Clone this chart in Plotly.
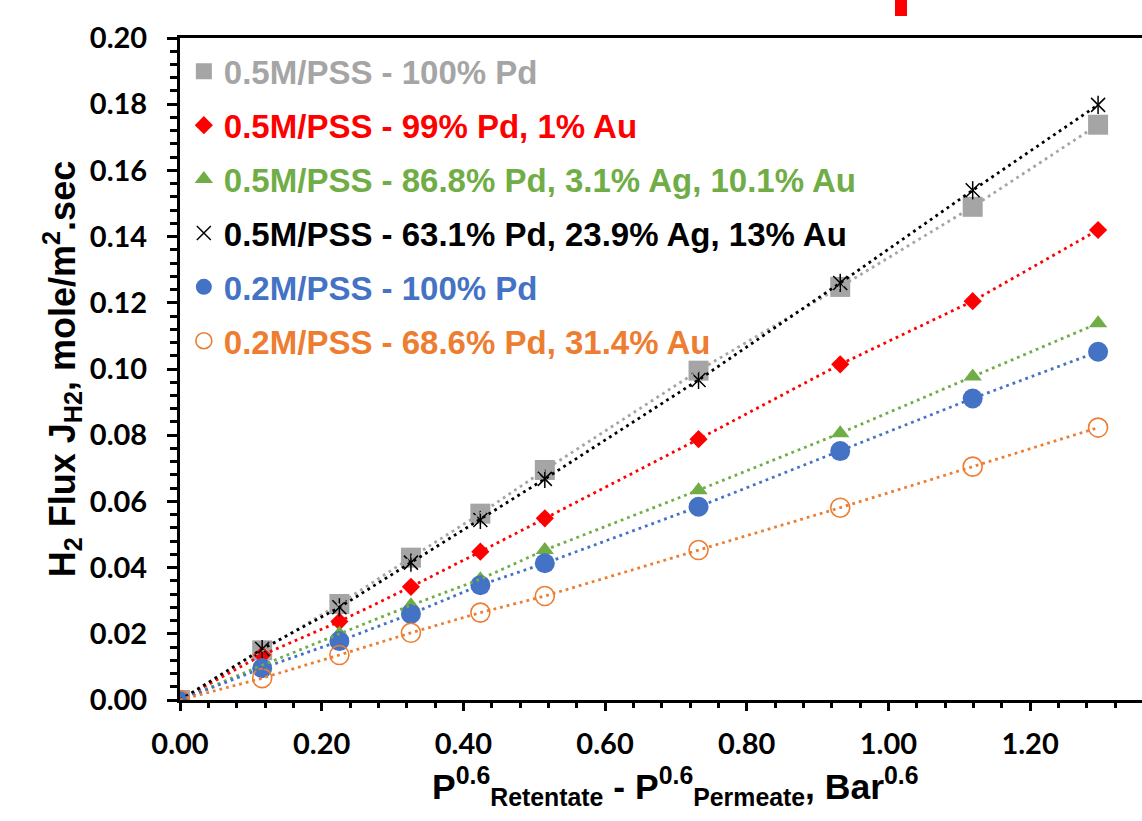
import plotly.graph_objects as go

# ---- data ----
x_vals = [0, 0.116, 0.225, 0.326, 0.424, 0.515, 0.732, 0.932, 1.119, 1.296]

pd100_05 = [0, 0.0150, 0.0290, 0.0430, 0.0563, 0.0695, 0.0995, 0.1248, 0.1490, 0.1738]
pdau_99 = [0, 0.0136, 0.0237, 0.0342, 0.0448, 0.0549, 0.0788, 0.1014, 0.1205, 0.1420]
pdagau_868 = [0, 0.0105, 0.0200, 0.0286, 0.0365, 0.0453, 0.0634, 0.0806, 0.0977, 0.1138]
pdagau_631 = [0, 0.0154, 0.0280, 0.0415, 0.0544, 0.0668, 0.0967, 0.1260, 0.1540, 0.1798]
pd100_02 = [0, 0.0096, 0.0178, 0.0260, 0.0347, 0.0413, 0.0584, 0.0752, 0.0911, 0.1052]
pdau_686 = [0, 0.0066, 0.0136, 0.0203, 0.0264, 0.0314, 0.0453, 0.0581, 0.0705, 0.0823]

names = [
    "0.5M/PSS - 100% Pd",
    "0.5M/PSS - 99% Pd, 1% Au",
    "0.5M/PSS - 86.8% Pd, 3.1% Ag, 10.1% Au",
    "0.5M/PSS - 63.1% Pd, 23.9% Ag, 13% Au",
    "0.2M/PSS - 100% Pd",
    "0.2M/PSS - 68.6% Pd, 31.4% Au",
]
series = [pd100_05, pdau_99, pdagau_868, pdagau_631, pd100_02, pdau_686]
colors = ["#A5A5A5", "#FF0000", "#70AD47", "#000000", "#4472C4", "#ED7D31"]

x_ticks = [0, 0.2, 0.4, 0.6, 0.8, 1.0, 1.2]
x_ticklabels = ["0.00", "0.20", "0.40", "0.60", "0.80", "1.00", "1.20"]
y_ticks = [0, 0.02, 0.04, 0.06, 0.08, 0.10, 0.12, 0.14, 0.16, 0.18, 0.20]
y_ticklabels = ["%.2f" % v for v in y_ticks]

x_title = "P<sup>0.6</sup><sub>Retentate</sub> - P<sup>0.6</sup><sub>Permeate</sub>, Bar<sup>0.6</sup>"
y_title = "H<sub>2</sub> Flux J<sub>H2</sub>, mole/m<sup>2</sup>.sec"

markers = [
    dict(symbol="square", size=20, color=colors[0]),
    dict(symbol="diamond", size=14, color=colors[1]),
    dict(symbol="triangle-up", size=16, color=colors[2]),
    dict(symbol="x-thin-open", size=14, color=colors[3], line=dict(color=colors[3], width=1.5)),
    dict(symbol="circle", size=20, color=colors[4]),
    dict(symbol="circle-open", size=19, color=colors[5], line=dict(color=colors[5], width=1.6)),
]

fig = go.Figure()

# marker traces (legend)
for i, (nm, ys, col, mk) in enumerate(zip(names, series, colors, markers)):
    fig.add_trace(go.Scatter(
        x=x_vals, y=ys, mode="markers", marker=mk,
        name="<span style='color:%s'>%s</span>" % (col, nm),
        legendgroup="g%d" % i, showlegend=True,
    ))
    if i == 3:
        fig.add_trace(go.Scatter(
            x=x_vals, y=ys, mode="markers",
            marker=dict(symbol="line-ns-open", size=13, color=col,
                        line=dict(color=col, width=1.5)),
            legendgroup="g%d" % i, showlegend=False, hoverinfo="skip",
        ))

# dotted trend lines on top
for i, (ys, col) in enumerate(zip(series, colors)):
    fig.add_trace(go.Scatter(
        x=x_vals, y=ys, mode="lines",
        line=dict(color=col, width=2.8, dash="2.8px,4px"),
        legendgroup="g%d" % i, showlegend=False, hoverinfo="skip",
    ))

tick_font = dict(family="Lato", size=29, color="black", weight="bold")

fig.update_layout(
    width=1142, height=821,
    margin=dict(l=180, r=0, t=38, b=121, pad=0),
    paper_bgcolor="white", plot_bgcolor="white",
    showlegend=True,
    legend=dict(
        x=0.004, y=0.992, xanchor="left", yanchor="top",
        bgcolor="rgba(0,0,0,0)", borderwidth=0,
        font=dict(family="Liberation Sans", size=33, weight="bold"),
        tracegroupgap=8, itemwidth=30,
    ),
    xaxis=dict(
        range=[0, 1.358], showgrid=False, zeroline=False,
        showline=True, linecolor="black", linewidth=3, mirror=True,
        ticks="outside", ticklen=8, tickwidth=2.5, tickcolor="black",
        tickvals=x_ticks, ticktext=x_ticklabels, tickfont=tick_font,
        ticklabelstandoff=8,
        minor=dict(dtick=0.04, ticks="outside", ticklen=5, tickwidth=2.5, tickcolor="black"),
    ),
    yaxis=dict(
        range=[0, 0.2], showgrid=False, zeroline=False,
        showline=True, linecolor="black", linewidth=3, mirror=False,
        ticks="outside", ticklen=10, tickwidth=2.5, tickcolor="black",
        tickvals=y_ticks, ticktext=y_ticklabels, tickfont=tick_font,
        ticklabelstandoff=14,
        minor=dict(dtick=0.004, ticks="outside", ticklen=7, tickwidth=2.5, tickcolor="black"),
        title=dict(text=y_title,
                   font=dict(family="Liberation Sans", size=36, color="black", weight="bold"),
                   standoff=4),
    ),
    annotations=[dict(
        text=x_title, xref="paper", yref="paper",
        x=(675 - 180) / 962, y=(700 - 786) / 662,
        xanchor="center", yanchor="middle", showarrow=False,
        font=dict(family="Liberation Sans", size=35.5, color="black", weight="bold"),
    )],
    shapes=[dict(type="rect", xref="paper", yref="paper",
                 x0=(895 - 180) / 962, x1=(907 - 180) / 962,
                 y0=(700 - 16) / 662, y1=(700 + 2) / 662,
                 fillcolor="#FF0000", line=dict(width=0), layer="above")],
)

fig.write_html("out.html")
